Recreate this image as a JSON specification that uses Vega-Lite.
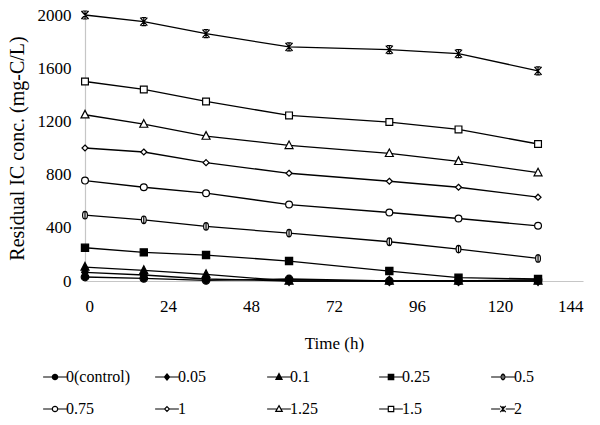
{
  "$schema": "https://vega.github.io/schema/vega-lite/v6.json",
  "width": 498,
  "height": 266,
  "autosize": "none",
  "padding": {"left": 85, "top": 15, "right": 17, "bottom": 144},
  "background": "white",
  "config": {
    "view": {"stroke": null},
    "font": "Liberation Serif",
    "axis": {
      "grid": false,
      "ticks": false,
      "tickSize": 0,
      "domainColor": "#c6c6c6",
      "domainWidth": 1.2,
      "labelColor": "black",
      "labelFont": "Liberation Serif",
      "labelFontSize": 17,
      "titleColor": "black",
      "titleFont": "Liberation Serif",
      "titleFontSize": 17,
      "titleFontWeight": "normal"
    }
  },
  "data": {
    "values": [
      {"dose": "0(control)", "t": 0, "c": 30}, {"dose": "0(control)", "t": 17, "c": 20}, {"dose": "0(control)", "t": 35, "c": 5}, {"dose": "0(control)", "t": 59, "c": 15}, {"dose": "0(control)", "t": 88, "c": 0}, {"dose": "0(control)", "t": 108, "c": 0}, {"dose": "0(control)", "t": 131, "c": 10},
      {"dose": "0.05", "t": 0, "c": 65}, {"dose": "0.05", "t": 17, "c": 45}, {"dose": "0.05", "t": 35, "c": 15}, {"dose": "0.05", "t": 59, "c": 0}, {"dose": "0.05", "t": 88, "c": 0}, {"dose": "0.05", "t": 108, "c": 0}, {"dose": "0.05", "t": 131, "c": 0},
      {"dose": "0.1", "t": 0, "c": 105}, {"dose": "0.1", "t": 17, "c": 80}, {"dose": "0.1", "t": 35, "c": 50}, {"dose": "0.1", "t": 59, "c": 0}, {"dose": "0.1", "t": 88, "c": 0}, {"dose": "0.1", "t": 108, "c": 0}, {"dose": "0.1", "t": 131, "c": 0},
      {"dose": "0.25", "t": 0, "c": 250}, {"dose": "0.25", "t": 17, "c": 215}, {"dose": "0.25", "t": 35, "c": 195}, {"dose": "0.25", "t": 59, "c": 150}, {"dose": "0.25", "t": 88, "c": 75}, {"dose": "0.25", "t": 108, "c": 25}, {"dose": "0.25", "t": 131, "c": 15},
      {"dose": "0.5", "t": 0, "c": 495}, {"dose": "0.5", "t": 17, "c": 460}, {"dose": "0.5", "t": 35, "c": 410}, {"dose": "0.5", "t": 59, "c": 360}, {"dose": "0.5", "t": 88, "c": 295}, {"dose": "0.5", "t": 108, "c": 240}, {"dose": "0.5", "t": 131, "c": 170},
      {"dose": "0.75", "t": 0, "c": 755}, {"dose": "0.75", "t": 17, "c": 705}, {"dose": "0.75", "t": 35, "c": 660}, {"dose": "0.75", "t": 59, "c": 575}, {"dose": "0.75", "t": 88, "c": 515}, {"dose": "0.75", "t": 108, "c": 470}, {"dose": "0.75", "t": 131, "c": 415},
      {"dose": "1", "t": 0, "c": 1000}, {"dose": "1", "t": 17, "c": 970}, {"dose": "1", "t": 35, "c": 890}, {"dose": "1", "t": 59, "c": 810}, {"dose": "1", "t": 88, "c": 750}, {"dose": "1", "t": 108, "c": 705}, {"dose": "1", "t": 131, "c": 630},
      {"dose": "1.25", "t": 0, "c": 1250}, {"dose": "1.25", "t": 17, "c": 1180}, {"dose": "1.25", "t": 35, "c": 1090}, {"dose": "1.25", "t": 59, "c": 1020}, {"dose": "1.25", "t": 88, "c": 960}, {"dose": "1.25", "t": 108, "c": 900}, {"dose": "1.25", "t": 131, "c": 815},
      {"dose": "1.5", "t": 0, "c": 1500}, {"dose": "1.5", "t": 17, "c": 1440}, {"dose": "1.5", "t": 35, "c": 1350}, {"dose": "1.5", "t": 59, "c": 1245}, {"dose": "1.5", "t": 88, "c": 1195}, {"dose": "1.5", "t": 108, "c": 1140}, {"dose": "1.5", "t": 131, "c": 1030},
      {"dose": "2", "t": 0, "c": 2000}, {"dose": "2", "t": 17, "c": 1950}, {"dose": "2", "t": 35, "c": 1860}, {"dose": "2", "t": 59, "c": 1760}, {"dose": "2", "t": 88, "c": 1740}, {"dose": "2", "t": 108, "c": 1710}, {"dose": "2", "t": 131, "c": 1580}
    ]
  },
  "encoding": {
    "x": {
      "field": "t",
      "type": "quantitative",
      "scale": {"domain": [0, 144], "nice": false, "zero": false},
      "axis": {"title": "Time  (h)", "values": [0, 24, 48, 72, 96, 120, 144], "labelPadding": 17, "titlePadding": 21}
    },
    "y": {
      "field": "c",
      "type": "quantitative",
      "scale": {"domain": [0, 2000], "nice": false},
      "axis": {"title": "Residual  IC  conc.  (mg-C/L)", "format": "d", "titleFontSize": 20, "values": [0, 400, 800, 1200, 1600, 2000], "labelPadding": 14, "titlePadding": 10}
    }
  },
  "layer": [
    {
      "mark": {"type": "line", "color": "black", "strokeWidth": 1.3},
      "encoding": {"detail": {"field": "dose", "type": "nominal"}}
    },
    {
      "mark": {"type": "point", "filled": true, "stroke": "black", "strokeWidth": 1.2, "size": 64, "opacity": 1},
      "encoding": {
        "fill": {
          "field": "dose",
          "type": "nominal",
          "scale": {
            "domain": ["0(control)", "0.05", "0.1", "0.25", "0.5", "0.75", "1", "1.25", "1.5", "2"],
            "range": ["black", "black", "black", "black", "white", "white", "white", "white", "white", "white"]
          },
          "legend": null
        },
        "shape": {
          "field": "dose",
          "type": "nominal",
          "scale": {
            "domain": ["0(control)", "0.05", "0.1", "0.25", "0.5", "0.75", "1", "1.25", "1.5", "2"],
            "range": [
              "M-0.95,0A0.95,0.95 0 1,1 0.95,0A0.95,0.95 0 1,1 -0.95,0Z",
              "M0,-1.1L0.85,0L0,1.1L-0.85,0Z",
              "M0,-1.15L1,0.8L-1,0.8Z",
              "M-0.9,-0.9H0.9V0.9H-0.9Z",
              "M-0.6,0A0.6,0.95 0 1,1 0.6,0A0.6,0.95 0 1,1 -0.6,0ZM0,-0.95V0.95",
              "M-0.85,0A0.85,0.85 0 1,1 0.85,0A0.85,0.85 0 1,1 -0.85,0Z",
              "M0,-0.75L0.75,0L0,0.75L-0.75,0Z",
              "M0,-1.1L1,0.8L-1,0.8Z",
              "M-0.85,-0.85H0.85V0.85H-0.85Z",
              "M-0.9,-1L0.9,1M0.9,-1L-0.9,1M0,-1V1M-0.6,-1H0.6M-0.6,1H0.6"
            ]
          },
          "legend": null
        }
      }
    },
    {
      "mark": {"type": "point", "filled": false, "stroke": "black", "strokeWidth": 1.2, "size": 32, "opacity": 0},
      "encoding": {
        "shape": {
          "field": "dose",
          "type": "nominal",
          "scale": {
            "domain": ["0(control)", "0.05", "0.1", "0.25", "0.5", "0.75", "1", "1.25", "1.5", "2"],
            "range": [
              "M-4.2,0H4.2M-0.96,0A0.96,0.96 0 1,1 0.96,0A0.96,0.96 0 1,1 -0.96,0ZM-0.93,-0.24H0.93M-0.83,-0.48H0.83M-0.63,-0.72H0.63M-0.38,-0.88H0.38M-0.93,0.24H0.93M-0.83,0.48H0.83M-0.63,0.72H0.63M-0.38,0.88H0.38",
              "M-4.2,0H4.2M0,-1.08L0.9,0L0,1.08L-0.9,0ZM-0.7,-0.24H0.7M-0.5,-0.48H0.5M-0.3,-0.72H0.3M-0.15,-0.9H0.15M-0.7,0.24H0.7M-0.5,0.48H0.5M-0.3,0.72H0.3M-0.15,0.9H0.15",
              "M-4.2,0H4.2M0,-1.2L1.08,0.84L-1.08,0.84ZM-0.13,-0.96H0.13M-0.25,-0.72H0.25M-0.38,-0.48H0.38M-0.51,-0.24H0.51M-0.76,0.24H0.76M-0.89,0.48H0.89M-1,0.72H1",
              "M-4.2,0H4.2M-0.96,-0.96H0.96V0.96H-0.96ZM-0.96,-0.24H0.96M-0.96,-0.48H0.96M-0.96,-0.72H0.96M-0.96,0.24H0.96M-0.96,0.48H0.96M-0.96,0.72H0.96",
              "M-4.2,0H-0.66M0.66,0H4.2M-0.66,0A0.66,1.02 0 1,1 0.66,0A0.66,1.02 0 1,1 -0.66,0ZM0,-1.02V1.02",
              "M-4.2,0H-0.96M0.96,0H4.2M-0.96,0A0.96,0.96 0 1,1 0.96,0A0.96,0.96 0 1,1 -0.96,0Z",
              "M-4.2,0H-0.84M0.84,0H4.2M0,-0.84L0.84,0L0,0.84L-0.84,0Z",
              "M-4.2,0H-0.67M0.67,0H4.2M0,-1.2L1.14,0.84L-1.14,0.84Z",
              "M-4.2,0H-0.96M0.96,0H4.2M-0.96,-0.96H0.96V0.96H-0.96Z",
              "M-4.2,0H-0.96M0.96,0H4.2M-0.96,-1.08L0.96,1.08M0.96,-1.08L-0.96,1.08M0,-1.08V1.08"
            ]
          },
          "legend": {
            "title": null,
            "orient": "none",
            "legendX": -38,
            "legendY": 354,
            "direction": "horizontal",
            "columns": 5,
            "gridAlign": "all",
            "columnPadding": 22,
            "rowPadding": 16,
            "symbolSize": 32,
            "symbolOpacity": 1,
            "symbolStrokeColor": "black",
            "symbolStrokeWidth": 1.2,
            "labelFont": "Liberation Serif",
            "labelFontSize": 16,
            "labelColor": "black",
            "labelOffset": 3
          }
        }
      }
    }
  ],
  "resolve": {"scale": {"shape": "independent"}}
}
